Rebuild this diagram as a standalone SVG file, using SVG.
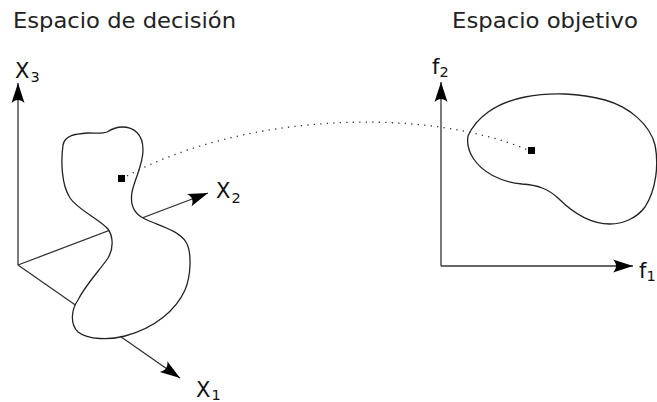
<svg xmlns="http://www.w3.org/2000/svg" width="657" height="402" viewBox="0 0 657 402">
  <style>
    .title { font-family: "DejaVu Sans", "Bitstream Vera Sans", sans-serif; font-size: 21px; fill: #222; }
    .lbl { font-family: "DejaVu Sans", sans-serif; font-size: 21px; fill: #111; }
    .sub { font-family: "DejaVu Sans", sans-serif; font-size: 14.5px; fill: #111; }
    .axis { stroke: #333; stroke-width: 1.3; fill: none; marker-end: url(#arr); }
    .blob { stroke: #222; stroke-width: 1.3; fill: #fff; }
    .dots { stroke: #333; stroke-width: 1.3; fill: none; stroke-dasharray: 1.3 5.2; }
    .pt { fill: #000; }
  </style>
  <defs>
    <marker id="arr" markerUnits="userSpaceOnUse" viewBox="-21 -8 22 16" markerWidth="22" markerHeight="16" refX="0" refY="0" orient="auto">
      <path d="M0,0 L-20,-6.5 C-16,-2.2 -16,2.2 -20,6.5 Z" fill="#000"/>
    </marker>
  </defs>

  <g id="titles">
    <text class="title" x="13" y="28" textLength="223" lengthAdjust="spacingAndGlyphs">Espacio de decisión</text>
    <text class="title" x="452" y="28" textLength="186" lengthAdjust="spacingAndGlyphs">Espacio objetivo</text>
  </g>

  <g id="decision-axes">
    <line class="axis" x1="18" y1="265" x2="18" y2="83"/>
    <line class="axis" x1="18" y1="265" x2="208" y2="193"/>
    <line class="axis" x1="18" y1="265" x2="180" y2="378"/>
    <text class="lbl" x="15" y="78">X<tspan class="sub" dx="1" dy="4">3</tspan></text>
    <text class="lbl" x="216" y="198">X<tspan class="sub" dx="1" dy="5">2</tspan></text>
    <text class="lbl" x="196" y="397">X<tspan class="sub" dx="1" dy="3">1</tspan></text>
  </g>

  <g id="decision-region">
    <path class="blob" d="M107,132 C112,129 117,127 122,127 C134,127 143,134 143,150 C143,165 135,178 132,192 C130,204 134,214 145,219 C160,226 178,230 186,242 C192,252 191,276 185,290 C176,310 155,328 125,336 C110,340 88,340 78,332 C70,324 71,310 78,300 C86,284 100,270 108,258 C114,248 113,236 108,229 C98,218 78,210 70,198 C61,184 61,160 63,145 C65,135 75,134 88,133 C95,133 102,134 107,132 Z"/>
  </g>

  <g id="objective-axes">
    <line class="axis" x1="441" y1="266" x2="441" y2="82"/>
    <line class="axis" x1="441" y1="266" x2="633" y2="266"/>
    <text class="lbl" x="432" y="74">f<tspan class="sub" dx="0" dy="3">2</tspan></text>
    <text class="lbl" x="639" y="278">f<tspan class="sub" dx="0" dy="3">1</tspan></text>
  </g>

  <g id="objective-region">
    <path class="blob" d="M468,136 C476,118 495,103 525,97 C550,92 580,93 605,100 C630,107 650,125 655,145 C659,165 656,190 645,207 C636,219 622,224 610,224 C590,224 572,212 558,198 C548,189 538,185 522,184 C500,182 482,172 473,158 C468,150 467,142 468,136 Z"/>
  </g>

  <g id="connectors">
    <path class="dots" d="M127,176 C240,115 420,105 528,150"/>
  </g>

  <g id="points">
    <rect class="pt" x="118" y="175" width="7" height="7"/>
    <rect class="pt" x="528" y="147" width="7" height="7"/>
  </g>
</svg>
